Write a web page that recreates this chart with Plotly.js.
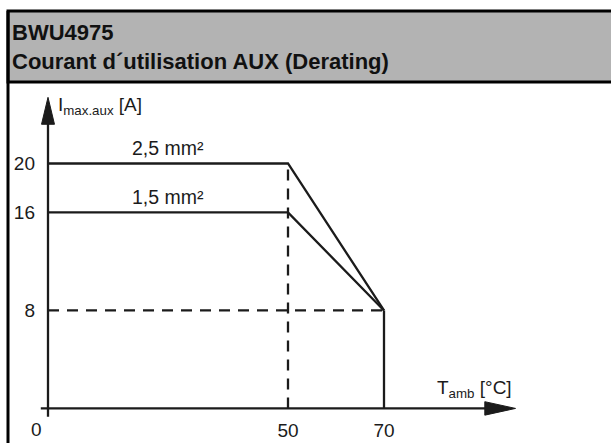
<!DOCTYPE html>
<html>
<head>
<meta charset="utf-8">
<script src="https://cdn.plot.ly/plotly-3.0.1.min.js"></script>
<style>
  html, body { margin: 0; padding: 0; background: #ffffff; }
  #chart { width: 611px; height: 443px; }
</style>
</head>
<body>
<div id="chart"></div>
<script>
// ---- data ----
const tempC = [0, 50, 70];            // ambient temperature breakpoints [°C]
const current25 = [20, 20, 8];        // 2,5 mm² derating curve [A]
const current15 = [16, 16, 8];        // 1,5 mm² derating curve [A]
const seriesLabels = ['2,5 mm²', '1,5 mm²'];
const kneeTemp = 50;                  // start of derating
const cutoffTemp = 70;                // end of derating
const minCurrent = 8;                 // current at cutoff
const xTickVals = [50, 70];
const xTickText = ['50', '70'];
const yTickVals = [8, 16, 20];
const yTickText = ['8', '16', '20'];
const originLabel = '0';
const titleLines = ['BWU4975', 'Courant d´utilisation AUX (Derating)'];

// ---- layout geometry ----
const W = 611, Hh = 443;
const M = { l: 36, r: 23, t: 90, b: 25.9 };
const PW = W - M.l - M.r, PH = Hh - M.t - M.b;
const px = v => (v - M.l) / PW;          // pixel -> paper x
const py = v => (Hh - M.b - v) / PH;     // pixel -> paper y

const ink = '#1b1b1b';
const FONT = '"Liberation Sans", Arial, Helvetica, sans-serif';

const solid = { color: ink, width: 2.3 };
const dashed = { color: ink, width: 2.3, dash: '11px,8px' };

const traces = [
  { x: tempC, y: current25, mode: 'lines', line: solid, hoverinfo: 'skip' },
  { x: tempC, y: current15, mode: 'lines', line: solid, hoverinfo: 'skip' },
  { x: [0, cutoffTemp], y: [minCurrent, minCurrent], mode: 'lines', line: dashed, hoverinfo: 'skip' },
  { x: [kneeTemp, kneeTemp], y: [0, current25[1]], mode: 'lines', line: dashed, hoverinfo: 'skip' },
  { x: [cutoffTemp, cutoffTemp], y: [0, minCurrent], mode: 'lines', line: solid, hoverinfo: 'skip' }
];

const shapes = [
  // header band + frame
  { type: 'rect', xref: 'paper', yref: 'paper', x0: px(8), x1: px(640), y0: py(82), y1: py(11),
    fillcolor: '#b3b3b3', line: { color: '#000', width: 3 }, layer: 'above' },
  { type: 'line', xref: 'paper', yref: 'paper', x0: px(8), x1: px(8), y0: py(11), y1: py(460),
    line: { color: '#000', width: 3 }, layer: 'above' },
  // axes
  { type: 'line', xref: 'x', yref: 'y', x0: -1.5, x1: 91.5, y0: 0, y1: 0, line: { color: ink, width: 2.3 } },
  { type: 'line', xref: 'x', yref: 'y', x0: 0, x1: 0, y0: -0.68, y1: 23.4, line: { color: ink, width: 2.3 } },
  // arrow heads
  { type: 'path', xref: 'x', yref: 'y', path: 'M 91,-0.55 L 97.4,0 L 91,0.55 Z', fillcolor: ink, line: { color: ink, width: 1 } },
  { type: 'path', xref: 'x', yref: 'y', path: 'M -1.35,23.2 L 0,25.4 L 1.35,23.2 Z', fillcolor: ink, line: { color: ink, width: 1 } }
];

const annotations = [
  { x: 25, y: current25[0], xref: 'x', yref: 'y', text: seriesLabels[0], showarrow: false,
    yanchor: 'bottom', yshift: 2, font: { family: FONT, size: 19.5, color: ink } },
  { x: 25, y: current15[0], xref: 'x', yref: 'y', text: seriesLabels[1], showarrow: false,
    yanchor: 'bottom', yshift: 2, font: { family: FONT, size: 19.5, color: ink } },
  { x: 1.6, y: 24.7, xref: 'x', yref: 'y', text: 'I<sub>max.aux</sub> [A]', showarrow: false,
    xanchor: 'left', yanchor: 'middle', font: { family: FONT, size: 19, color: ink } },
  { x: 97, y: 0, xref: 'x', yref: 'y', text: 'T<sub>amb</sub> [°C]', showarrow: false,
    xanchor: 'right', yanchor: 'bottom', yshift: 5, font: { family: FONT, size: 19, color: ink } },
  { x: px(36), y: py(430), xref: 'paper', yref: 'paper', text: originLabel, showarrow: false,
    xanchor: 'center', yanchor: 'middle', font: { family: FONT, size: 19, color: ink } }
];

const layout = {
  width: W, height: Hh,
  margin: M,
  paper_bgcolor: '#ffffff', plot_bgcolor: 'rgba(0,0,0,0)',
  showlegend: false,
  title: {
    text: '<b>' + titleLines.join('<br>') + '</b>',
    xref: 'container', yref: 'container',
    x: 12 / W, xanchor: 'left',
    y: 1 - 40 / Hh, yanchor: 'top',
    font: { family: FONT, size: 22, color: '#111' }
  },
  xaxis: {
    range: [-2.5, 112.5], showgrid: false, zeroline: false, showline: false,
    tickvals: xTickVals, ticktext: xTickText, ticks: '',
    tickfont: { family: FONT, size: 19, color: ink }, fixedrange: true
  },
  yaxis: {
    range: [-0.7, 26], showgrid: false, zeroline: false, showline: false,
    tickvals: yTickVals, ticktext: yTickText, ticks: '',
    tickfont: { family: FONT, size: 19, color: ink }, fixedrange: true
  },
  shapes: shapes,
  annotations: annotations
};

Plotly.newPlot('chart', traces, layout, { displayModeBar: false, staticPlot: true });
</script>
</body>
</html>
